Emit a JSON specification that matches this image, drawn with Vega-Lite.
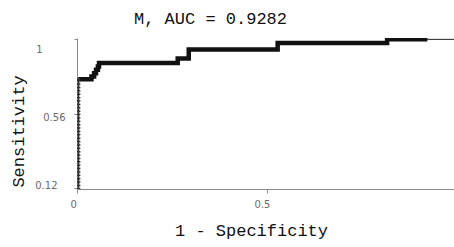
{
  "$schema": "https://vega.github.io/schema/vega-lite/v6.json",
  "width": 377,
  "height": 151,
  "autosize": {"type": "none"},
  "padding": {"left": 77, "top": 38, "right": 0, "bottom": 58},
  "background": "white",
  "title": {
    "text": "M, AUC = 0.9282",
    "font": "Liberation Mono",
    "fontSize": 17,
    "fontWeight": "normal",
    "color": "#111",
    "anchor": "middle",
    "dx": -55,
    "offset": 10
  },
  "config": {
    "view": {"stroke": null},
    "axis": {
      "grid": false,
      "domainColor": "#8a8a8a",
      "tickColor": "#8a8a8a",
      "labelColor": "#6a6a6a",
      "labelFont": "DejaVu Sans",
      "labelFontSize": 10,
      "titleFont": "Liberation Mono",
      "titleFontSize": 17,
      "titleFontWeight": "normal",
      "titleColor": "#111"
    }
  },
  "data": {
    "values": [
      {"fpr": 0.004, "sens": 0.115},
      {"fpr": 0.004, "sens": 0.135},
      {"fpr": 0.004, "sens": 0.155},
      {"fpr": 0.004, "sens": 0.175},
      {"fpr": 0.004, "sens": 0.195},
      {"fpr": 0.004, "sens": 0.215},
      {"fpr": 0.004, "sens": 0.235},
      {"fpr": 0.004, "sens": 0.255},
      {"fpr": 0.004, "sens": 0.275},
      {"fpr": 0.004, "sens": 0.295},
      {"fpr": 0.004, "sens": 0.315},
      {"fpr": 0.004, "sens": 0.335},
      {"fpr": 0.004, "sens": 0.355},
      {"fpr": 0.004, "sens": 0.375},
      {"fpr": 0.004, "sens": 0.395},
      {"fpr": 0.004, "sens": 0.415},
      {"fpr": 0.004, "sens": 0.435},
      {"fpr": 0.004, "sens": 0.455},
      {"fpr": 0.004, "sens": 0.475},
      {"fpr": 0.004, "sens": 0.495},
      {"fpr": 0.004, "sens": 0.515},
      {"fpr": 0.004, "sens": 0.535},
      {"fpr": 0.004, "sens": 0.555},
      {"fpr": 0.004, "sens": 0.575},
      {"fpr": 0.004, "sens": 0.595},
      {"fpr": 0.004, "sens": 0.615},
      {"fpr": 0.004, "sens": 0.635},
      {"fpr": 0.004, "sens": 0.655},
      {"fpr": 0.004, "sens": 0.675},
      {"fpr": 0.004, "sens": 0.695},
      {"fpr": 0.004, "sens": 0.715},
      {"fpr": 0.004, "sens": 0.735},
      {"fpr": 0.004, "sens": 0.755},
      {"fpr": 0.004, "sens": 0.764},
      {"fpr": 0.038, "sens": 0.764},
      {"fpr": 0.038, "sens": 0.78},
      {"fpr": 0.045, "sens": 0.78},
      {"fpr": 0.045, "sens": 0.8},
      {"fpr": 0.05, "sens": 0.8},
      {"fpr": 0.05, "sens": 0.82},
      {"fpr": 0.055, "sens": 0.82},
      {"fpr": 0.055, "sens": 0.84},
      {"fpr": 0.058, "sens": 0.84},
      {"fpr": 0.058, "sens": 0.86},
      {"fpr": 0.265, "sens": 0.86},
      {"fpr": 0.265, "sens": 0.886},
      {"fpr": 0.294, "sens": 0.886},
      {"fpr": 0.294, "sens": 0.94},
      {"fpr": 0.528, "sens": 0.94},
      {"fpr": 0.528, "sens": 0.978},
      {"fpr": 0.816, "sens": 0.978},
      {"fpr": 0.816, "sens": 1.0},
      {"fpr": 0.922, "sens": 1.0},
      {"fpr": 1.0, "sens": 1.0}
    ]
  },
  "encoding": {
    "x": {
      "field": "fpr",
      "type": "quantitative",
      "scale": {"domain": [0, 0.992], "nice": false, "zero": false},
      "axis": {
        "title": "1 - Specificity",
        "values": [0, 0.5],
        "format": ".2~f",
        "tickSize": 4,
        "labelPadding": 6,
        "labelOffset": {"condition": {"test": "datum.value == 0", "value": -7}, "value": -5},
        "titleX": 174,
        "titleY": 46,
        "titleBaseline": "alphabetic",
        "titleAnchor": null
      }
    },
    "y": {
      "field": "sens",
      "type": "quantitative",
      "scale": {"domain": [0.114, 1.008], "nice": false, "zero": false},
      "axis": {
        "title": "Sensitivity",
        "values": [0.12, 0.56, 1],
        "format": ".2~f",
        "tickSize": 3,
        "labelBaseline": "middle",
        "labelPadding": {"condition": [{"test": "datum.value == 1", "value": 32}, {"test": "datum.value > 0.5", "value": 9}], "value": 17},
        "labelOffset": {"condition": [{"test": "datum.value == 1", "value": 10}, {"test": "datum.value > 0.5", "value": 4}], "value": -2},
        "titleX": -54,
        "titleY": 93,
        "titleBaseline": "alphabetic",
        "titleAngle": -90,
        "titleAlign": "center",
        "titleAnchor": null
      }
    }
  },
  "layer": [
    {
      "mark": {"type": "line", "color": "#222", "strokeWidth": 1, "clip": true},
      "encoding": {"order": {"value": null}}
    },
    {
      "transform": [{"filter": "datum.sens >= 0.76 && datum.fpr <= 0.93"}],
      "mark": {"type": "line", "color": "#111", "strokeWidth": 4.5, "clip": true},
      "encoding": {"order": {"value": null}}
    },
    {
      "transform": [{"filter": "datum.fpr < 0.01"}],
      "mark": {"type": "point", "shape": "cross", "filled": true, "size": 14, "color": "#333", "opacity": 1, "clip": true}
    }
  ]
}
